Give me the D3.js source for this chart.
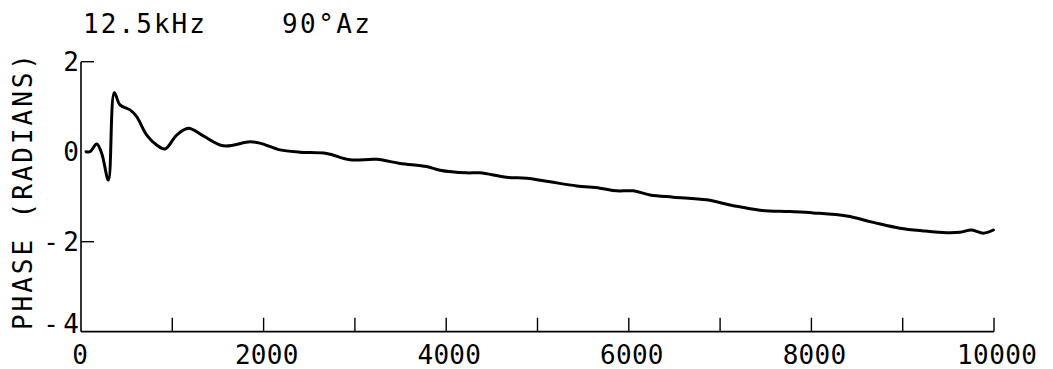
<!DOCTYPE html>
<html>
<head>
<meta charset="utf-8">
<script src="https://cdn.jsdelivr.net/npm/d3@7"></script>
<style>
html,body{margin:0;padding:0;background:#fff;}
svg{display:block;}
text{font-family:"DejaVu Sans Mono",monospace;fill:#000;}
</style>
</head>
<body>
<svg id="c" width="1053" height="369"></svg>
<script>
const freq = [55,100,172,227,300,365,427,537,610,720,829,920,1048,1176,1340,1560,1851,1960,2180,2399,2691,2946,3239,3494,3786,3932,4224,4370,4663,4882,5137,5430,5685,5867,6049,6232,6487,6853,7145,7437,7766,8021,8387,8678,8970,9226,9482,9628,9756,9883,9993];
const phase = [0.0,0.0,0.17,-0.04,-0.63,1.31,1.04,0.93,0.78,0.37,0.15,0.06,0.37,0.52,0.35,0.13,0.22,0.19,0.04,-0.01,-0.04,-0.18,-0.17,-0.26,-0.33,-0.41,-0.47,-0.47,-0.57,-0.59,-0.67,-0.76,-0.81,-0.87,-0.87,-0.96,-1.01,-1.07,-1.2,-1.30,-1.33,-1.36,-1.43,-1.57,-1.70,-1.76,-1.80,-1.79,-1.74,-1.81,-1.74];
const xTicks = [1000,2000,3000,4000,5000,6000,7000,8000,9000,10000];
const xLabels = [0,2000,4000,6000,8000,10000];
const yLabels = [2,0,-2,-4];
const yTickMarks = [2,-2];
const titleFreq = "12.5kHz";
const titleAz = "90°Az";
const yTitle = "PHASE (RADIANS)";

const svg = d3.select("#c");
const x = d3.scaleLinear().domain([0,10000]).range([81,994]);
const y = d3.scaleLinear().domain([-4,2]).range([331.7,61.7]);
const fs = 26;
const digitW = 16.6;

svg.append("line").attr("x1",x(0)).attr("x2",x(0)).attr("y1",y(2)).attr("y2",y(-4))
  .attr("stroke","#000").attr("stroke-width",1.6);
svg.append("line").attr("x1",x(0)).attr("x2",x(10000)).attr("y1",y(-4)).attr("y2",y(-4))
  .attr("stroke","#000").attr("stroke-width",1.8);

svg.selectAll(".xt").data(xTicks).enter().append("line")
  .attr("x1",d=>x(d)).attr("x2",d=>x(d)).attr("y1",y(-4)).attr("y2",y(-4)-14)
  .attr("stroke","#000").attr("stroke-width",1.4);
svg.selectAll(".yt").data(yTickMarks).enter().append("line")
  .attr("x1",x(0)).attr("x2",x(0)+13).attr("y1",d=>y(d)).attr("y2",d=>y(d))
  .attr("stroke","#000").attr("stroke-width",1.4);

svg.selectAll(".xl").data(xLabels).enter().append("text")
  .attr("x",d=>x(d)+(d===0?-1:3)).attr("y",364).attr("text-anchor","middle")
  .attr("font-size",fs)
  .attr("textLength",d=>String(d).length*digitW-3)
  .attr("lengthAdjust","spacing")
  .text(d=>d);

const yl = svg.selectAll(".yl").data(yLabels).enter().append("g");
yl.append("text")
  .attr("x",x(0)-2).attr("y",d=>Math.min(y(d)+9, y(-4)+1)).attr("text-anchor","end")
  .attr("font-size",fs).text(d=>Math.abs(d));
yl.filter(d=>d<0).append("text")
  .attr("x",x(0)-22).attr("y",d=>Math.min(y(d)+9, y(-4)+1)).attr("text-anchor","end")
  .attr("font-size",fs).text("-");

svg.append("text").attr("x",83).attr("y",33).attr("font-size",fs)
  .attr("textLength",122).attr("lengthAdjust","spacing").text(titleFreq);
svg.append("text").attr("x",282).attr("y",33).attr("font-size",fs)
  .attr("textLength",88).attr("lengthAdjust","spacing").text(titleAz);
svg.append("text").attr("transform","translate(32,192) rotate(-90)").attr("text-anchor","middle")
  .attr("font-size",fs).attr("textLength",276).attr("lengthAdjust","spacing").text(yTitle);

const pts = freq.map((f,i)=>[f,phase[i]]);
const line = d3.line().x(d=>x(d[0])).y(d=>y(d[1])).curve(d3.curveCatmullRom.alpha(0.5));
svg.append("path").attr("d",line(pts)).attr("fill","none").attr("stroke","#000")
  .attr("stroke-width",3).attr("stroke-linejoin","round").attr("stroke-linecap","round");
</script>
</body>
</html>
